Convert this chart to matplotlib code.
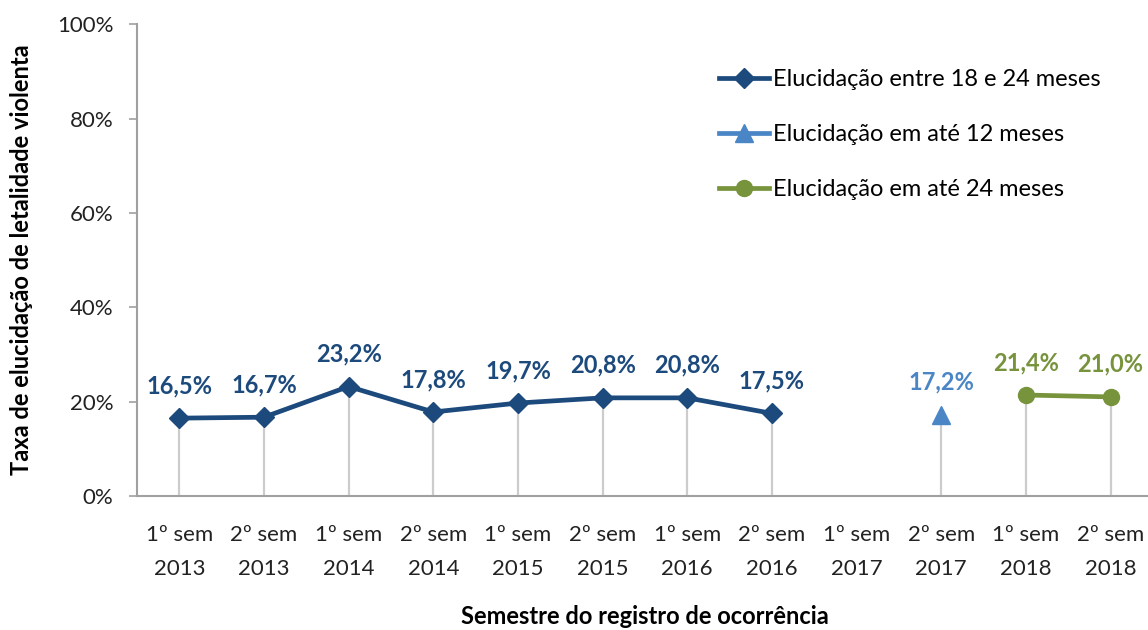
import matplotlib
matplotlib.use("Agg")
import matplotlib.pyplot as plt
import numpy as np

plt.rcParams['font.family'] = ['Lato', 'DejaVu Sans']

# categories
semesters = ["1º sem\n2013", "2º sem\n2013", "1º sem\n2014", "2º sem\n2014",
             "1º sem\n2015", "2º sem\n2015", "1º sem\n2016", "2º sem\n2016",
             "1º sem\n2017", "2º sem\n2017", "1º sem\n2018", "2º sem\n2018"]

# series (None = no value)
entre_18_24 = [16.5, 16.7, 23.2, 17.8, 19.7, 20.8, 20.8, 17.5, None, None, None, None]
ate_12 = [None, None, None, None, None, None, None, None, None, 17.2, None, None]
ate_24 = [None, None, None, None, None, None, None, None, None, None, 21.4, 21.0]

labels = ["Elucidação entre 18 e 24 meses", "Elucidação em até 12 meses", "Elucidação em até 24 meses"]
colors = ["#1c4a7c", "#4a86c6", "#77933c"]
markers = ["D", "^", "o"]
msizes = [10, 13, 11.5]

fig = plt.figure(figsize=(11.48, 6.3), dpi=100)
ax = fig.add_axes([0.1193, 0.2127, 0.885, 0.749])

x = np.arange(len(semesters))

# drop lines
for series in (entre_18_24, ate_12, ate_24):
    for xi, v in zip(x, series):
        if v is not None:
            ax.vlines(xi, 0, v, color="#cccccc", linewidth=1.6, zorder=1)

for series, lab, col, mk, ms in zip((entre_18_24, ate_12, ate_24), labels, colors, markers, msizes):
    y = np.array([np.nan if v is None else v for v in series])
    ax.plot(x, y, color=col, linewidth=3.4, marker=mk, markersize=ms, label=lab, zorder=3)
    for xi, v in zip(x, series):
        if v is not None:
            ax.annotate(f"{v:.1f}%".replace(".", ","), (xi, v), xytext=(0, 18),
                        textcoords="offset points", ha="center", va="baseline",
                        fontsize=17, fontweight="bold", color=col)

ax.set_xlim(-0.5, len(semesters) - 0.5)
ax.set_ylim(0, 100)
ax.set_yticks(np.arange(0, 101, 20))
ax.set_yticklabels([f"{v}%" for v in range(0, 101, 20)])
ax.set_xticks(x)
ax.set_xticklabels(semesters, linespacing=1.85)
ax.tick_params(axis="y", labelsize=16, colors="#222222", length=6, width=1.2, color="#a0a0a0", pad=11)
ax.tick_params(axis="x", labelsize=16, colors="#222222", length=0, pad=21)

for s in ("top", "right"):
    ax.spines[s].set_visible(False)
for s in ("left", "bottom"):
    ax.spines[s].set_color("#a0a0a0")
    ax.spines[s].set_linewidth(1.5)

ax.set_ylabel("Taxa de elucidação de letalidade violenta", fontsize=17, fontweight="bold", va="center")
ax.yaxis.set_label_coords(-0.114, 0.5)
ax.set_xlabel("Semestre do registro de ocorrência", fontsize=17, fontweight="bold", va="center")
ax.xaxis.set_label_coords(0.5, -0.256)

leg = ax.legend(loc="upper left", bbox_to_anchor=(0.564, 0.925), frameon=False, fontsize=17,
                handlelength=2.1, handletextpad=0.17, labelspacing=1.45, borderaxespad=0)

fig.savefig("out.png", dpi=100)
